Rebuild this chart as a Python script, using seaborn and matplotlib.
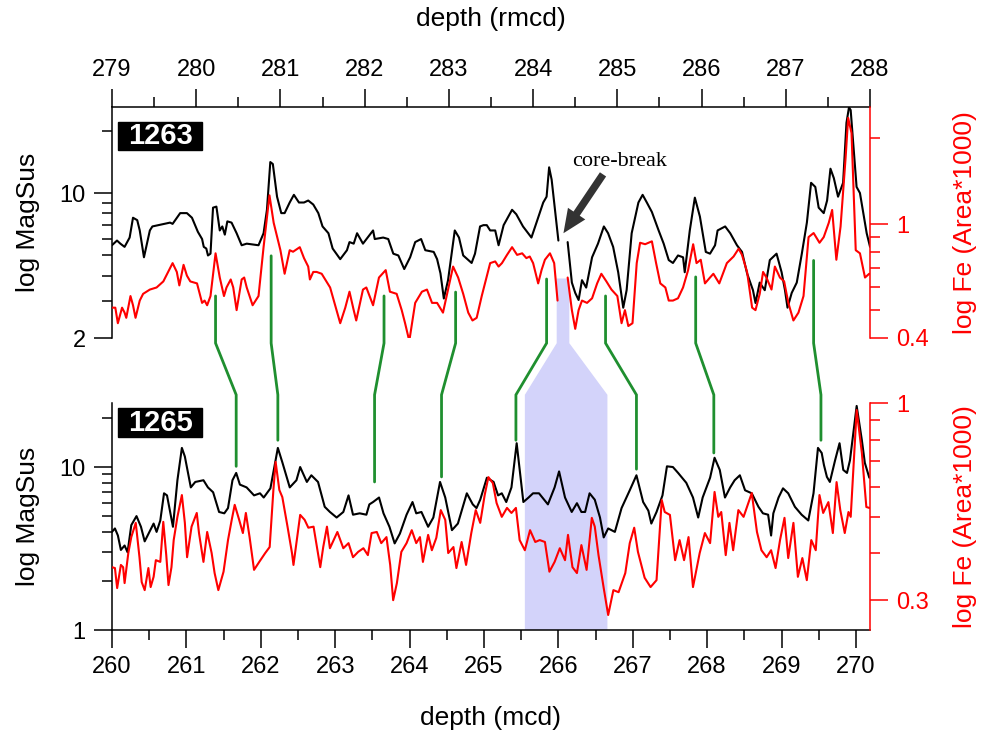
import numpy as np
import pandas as pd
import matplotlib
matplotlib.use("Agg")
import matplotlib.pyplot as plt
from matplotlib.lines import Line2D
from matplotlib.patches import Polygon, Rectangle
from matplotlib.ticker import FixedLocator, NullFormatter, FuncFormatter
import seaborn as sns

# ---------------------------------------------------------------------------
# Site 1263 (revised composite depth), split at the core break
# ---------------------------------------------------------------------------
rmcd_ms_1263_a = [
    279.00, 279.06, 279.10, 279.15, 279.21, 279.25, 279.30, 279.33, 279.38, 279.45,
    279.48, 279.69, 279.72, 279.81, 279.89, 279.95, 280.02, 280.07, 280.09, 280.12,
    280.14, 280.17, 280.20, 280.24, 280.28, 280.31, 280.34, 280.37, 280.42, 280.48,
    280.54, 280.60, 280.74, 280.80, 280.84, 280.88, 280.91, 280.96, 281.01, 281.05,
    281.11, 281.16, 281.22, 281.28, 281.33, 281.39, 281.45, 281.50, 281.57, 281.62,
    281.71, 281.79, 281.82, 281.87, 281.91, 281.98, 282.10, 282.12, 282.22, 282.28,
    282.34, 282.40, 282.47, 282.54, 282.60, 282.67, 282.72, 282.82, 282.86, 282.90,
    282.94, 282.99, 283.07, 283.12, 283.17, 283.27, 283.31, 283.37, 283.41, 283.45,
    283.49, 283.55, 283.59, 283.65, 283.75, 283.80, 283.88, 283.98, 284.04, 284.12,
    284.16, 284.19, 284.22, 284.30,
]
ms_1263_a = [
    5.6, 5.9, 5.7, 5.5, 6.1, 7.6, 7.4, 6.6, 4.9, 6.6,
    6.9, 7.2, 7.1, 8.0, 8.0, 7.6, 6.5, 6.0, 5.5, 5.4,
    5.0, 5.1, 8.5, 8.6, 6.6, 6.9, 6.3, 7.3, 7.2, 6.4,
    5.6, 5.7, 5.6, 6.4, 8.3, 14.1, 13.8, 9.6, 8.0, 8.0,
    9.0, 9.8, 9.0, 9.0, 9.2, 8.8, 8.0, 6.9, 6.4, 5.4,
    4.8, 5.3, 5.8, 5.7, 6.4, 5.7, 6.6, 6.0, 6.1, 6.0,
    5.1, 5.0, 4.3, 4.9, 5.8, 6.0, 5.3, 5.2, 4.8, 4.1,
    3.1, 3.8, 6.6, 6.1, 5.0, 4.6, 5.1, 6.9, 7.0, 7.0,
    6.6, 6.6, 5.6, 7.0, 8.3, 7.9, 6.9, 6.1, 7.2, 9.0,
    9.6, 13.3, 11.6, 5.9,
]
rmcd_ms_1263_b = [
    284.41, 284.46, 284.50, 284.54, 284.58, 284.63, 284.70, 284.77, 284.84, 284.89,
    284.95, 285.01, 285.07, 285.11, 285.17, 285.25, 285.30, 285.35, 285.41, 285.49,
    285.55, 285.61, 285.66, 285.72, 285.78, 285.80, 285.86, 285.92, 285.98, 286.05,
    286.10, 286.16, 286.19, 286.28, 286.34, 286.42, 286.48, 286.54, 286.61, 286.64,
    286.69, 286.75, 286.81, 286.89, 286.95, 286.99, 287.02, 287.07, 287.13, 287.19,
    287.25, 287.30, 287.35, 287.39, 287.45, 287.49, 287.53, 287.57, 287.62, 287.68,
    287.72, 287.75, 287.77, 287.84, 287.88, 287.96, 288.00,
]
ms_1263_b = [
    5.8, 3.7, 3.3, 3.05, 3.8, 3.5, 4.9, 5.7, 6.9, 6.4,
    5.5, 4.15, 2.8, 3.4, 6.4, 9.0, 9.8, 9.0, 8.1, 6.6,
    5.7, 4.75, 4.6, 5.0, 4.9, 4.15, 6.6, 9.5, 7.7, 5.2,
    5.1, 5.6, 6.6, 6.9, 6.4, 5.6, 5.2, 4.1, 3.4, 2.95,
    3.7, 3.4, 4.75, 5.1, 4.15, 3.4, 2.8, 3.3, 3.7, 5.1,
    7.2, 11.2, 10.7, 8.5, 8.0, 9.2, 13.1, 11.8, 9.6, 11.2,
    21.8, 25.9, 25.1, 10.7, 10.0, 6.4, 5.5,
]

rmcd_fe_1263_a = [
    279.00, 279.04, 279.07, 279.12, 279.15, 279.17, 279.22, 279.25, 279.28, 279.33,
    279.37, 279.45, 279.53, 279.61, 279.72, 279.77, 279.80, 279.85, 279.89, 279.93,
    280.01, 280.07, 280.10, 280.13, 280.17, 280.23, 280.28, 280.33, 280.36, 280.41,
    280.44, 280.48, 280.54, 280.57, 280.60, 280.67, 280.74, 280.80, 280.87, 280.92,
    281.00, 281.05, 281.11, 281.15, 281.23, 281.28, 281.33, 281.35, 281.39, 281.43,
    281.49, 281.59, 281.71, 281.77, 281.82, 281.87, 281.90, 281.98, 282.02, 282.10,
    282.17, 282.25, 282.30, 282.38, 282.44, 282.48, 282.53, 282.60, 282.68, 282.74,
    282.80, 282.86, 282.93, 282.99, 283.05, 283.11, 283.17, 283.23, 283.28, 283.33,
    283.39, 283.49, 283.55, 283.59, 283.63, 283.69, 283.75, 283.81, 283.87, 283.92,
    283.96, 284.00, 284.06, 284.10, 284.14, 284.20, 284.25, 284.29,
]
fe_1263_a = [
    0.51, 0.51, 0.45, 0.51, 0.49, 0.47, 0.56, 0.52, 0.47, 0.54,
    0.57, 0.59, 0.60, 0.63, 0.73, 0.68, 0.61, 0.72, 0.66, 0.63,
    0.62, 0.53, 0.54, 0.52, 0.56, 0.79, 0.65, 0.56, 0.60, 0.64,
    0.60, 0.50, 0.64, 0.65, 0.60, 0.52, 0.56, 0.83, 1.26, 1.01,
    0.81, 0.67, 0.81, 0.80, 0.83, 0.76, 0.71, 0.64, 0.68, 0.68,
    0.67, 0.60, 0.45, 0.51, 0.58, 0.50, 0.46, 0.59, 0.60, 0.52,
    0.65, 0.69, 0.58, 0.57, 0.50, 0.45, 0.39, 0.53, 0.58, 0.59,
    0.53, 0.53, 0.49, 0.59, 0.71, 0.65, 0.57, 0.49, 0.46, 0.47,
    0.56, 0.73, 0.74, 0.71, 0.73, 0.78, 0.83, 0.78, 0.79, 0.76,
    0.77, 0.73, 0.62, 0.69, 0.75, 0.79, 0.73, 0.54,
]
rmcd_fe_1263_b = [
    284.41, 284.46, 284.50, 284.54, 284.58, 284.64, 284.70, 284.76, 284.81, 284.87,
    284.93, 285.00, 285.05, 285.09, 285.13, 285.18, 285.23, 285.27, 285.33, 285.41,
    285.46, 285.51, 285.57, 285.61, 285.66, 285.72, 285.78, 285.84, 285.90, 285.94,
    285.99, 286.04, 286.10, 286.14, 286.21, 286.30, 286.38, 286.44, 286.48, 286.54,
    286.60, 286.64, 286.69, 286.73, 286.77, 286.83, 286.87, 286.93, 286.98, 287.03,
    287.09, 287.15, 287.21, 287.27, 287.33, 287.40, 287.45, 287.51, 287.55, 287.60,
    287.65, 287.71, 287.74, 287.78, 287.83, 287.88, 287.94, 287.99,
]
fe_1263_b = [
    0.65, 0.50, 0.43, 0.50, 0.54, 0.53, 0.55, 0.62, 0.67, 0.63,
    0.59, 0.56, 0.45, 0.50, 0.44, 0.45, 0.73, 0.86, 0.85, 0.87,
    0.73, 0.62, 0.60, 0.54, 0.54, 0.55, 0.60, 0.69, 0.85, 0.73,
    0.75, 0.62, 0.65, 0.67, 0.62, 0.73, 0.77, 0.82, 0.78, 0.68,
    0.51, 0.50, 0.57, 0.68, 0.65, 0.59, 0.71, 0.65, 0.63, 0.53,
    0.46, 0.49, 0.56, 0.90, 0.93, 0.86, 0.90, 1.01, 1.12, 0.75,
    0.98, 1.71, 2.35, 2.08, 0.81, 0.79, 0.65, 0.67,
]

# ---------------------------------------------------------------------------
# Site 1265 (composite depth)
# ---------------------------------------------------------------------------
mcd_ms_1265 = [
    260.00, 260.04, 260.08, 260.12, 260.17, 260.21, 260.26, 260.33, 260.39, 260.44,
    260.56, 260.60, 260.65, 260.70, 260.74, 260.82, 260.88, 260.94, 260.98, 261.06,
    261.12, 261.23, 261.29, 261.36, 261.44, 261.51, 261.56, 261.62, 261.67, 261.72,
    261.81, 261.91, 261.99, 262.04, 262.13, 262.23, 262.29, 262.39, 262.48, 262.53,
    262.62, 262.68, 262.77, 262.86, 262.93, 263.02, 263.11, 263.18, 263.24, 263.33,
    263.42, 263.46, 263.51, 263.59, 263.65, 263.73, 263.80, 263.87, 263.96, 264.04,
    264.09, 264.16, 264.25, 264.32, 264.41, 264.48, 264.57, 264.65, 264.77, 264.85,
    264.90, 264.95, 265.04, 265.13, 265.19, 265.24, 265.30, 265.37, 265.44, 265.53,
    265.60, 265.66, 265.74, 265.86, 265.95, 266.01, 266.09, 266.18, 266.25, 266.31,
    266.36, 266.42, 266.49, 266.56, 266.61, 266.67, 266.76, 266.85, 266.96, 267.05,
    267.14, 267.21, 267.25, 267.32, 267.40, 267.46, 267.54, 267.61, 267.72, 267.81,
    267.88, 267.94, 268.04, 268.10, 268.17, 268.24, 268.31, 268.37, 268.44, 268.51,
    268.60, 268.69, 268.75, 268.82, 268.86, 268.89, 268.96, 269.02, 269.09, 269.18,
    269.27, 269.36, 269.43, 269.49, 269.54, 269.57, 269.61, 269.65, 269.72, 269.78,
    269.83, 269.88, 269.92, 270.01, 270.08, 270.12, 270.18,
]
ms_1265 = [
    4.0, 4.2, 3.8, 3.1, 3.3, 3.0, 4.4, 5.0, 4.3, 3.5,
    4.5, 4.0, 4.7, 6.9, 6.7, 4.3, 8.3, 13.1, 11.6, 7.5,
    8.1, 8.3, 7.5, 7.0, 5.3, 5.2, 5.6, 8.3, 9.2, 7.8,
    7.5, 6.7, 6.9, 6.5, 7.4, 13.1, 10.7, 7.5, 8.3, 10.0,
    8.1, 8.9, 8.1, 5.7, 5.3, 4.9, 5.3, 6.7, 5.1, 5.2,
    5.1, 5.9, 6.1, 6.5, 5.2, 4.3, 3.4, 3.9, 5.1, 6.1,
    5.2, 5.3, 4.3, 4.9, 8.1, 6.5, 4.1, 4.5, 6.9, 5.9,
    5.6, 6.3, 8.6, 8.1, 6.7, 6.9, 6.1, 7.5, 14.0, 6.1,
    6.5, 6.9, 6.9, 5.9, 7.5, 9.4, 6.5, 5.3, 6.0, 5.3,
    5.3, 6.9, 6.3, 4.9, 3.7, 4.2, 4.0, 5.6, 7.2, 8.9,
    6.1, 5.4, 4.5, 5.3, 6.7, 10.1, 10.0, 9.2, 8.0, 6.5,
    4.9, 6.5, 8.6, 11.4, 9.6, 6.5, 7.5, 8.3, 8.9, 7.2,
    6.9, 5.7, 5.2, 5.1, 3.8, 5.2, 6.5, 7.4, 6.9, 5.7,
    5.1, 4.7, 6.9, 13.1, 12.2, 10.3, 8.7, 8.1, 11.0, 14.0,
    9.6, 9.2, 11.0, 23.7, 14.6, 10.6, 8.6,
]

mcd_fe_1265 = [
    260.00, 260.04, 260.07, 260.12, 260.15, 260.17, 260.22, 260.26, 260.32, 260.37,
    260.40, 260.44, 260.49, 260.52, 260.56, 260.59, 260.65, 260.69, 260.73, 260.76,
    260.80, 260.83, 260.88, 260.94, 260.98, 261.01, 261.07, 261.14, 261.17, 261.23,
    261.28, 261.34, 261.38, 261.43, 261.50, 261.56, 261.61, 261.65, 261.71, 261.76,
    261.80, 261.85, 261.91, 261.98, 262.06, 262.12, 262.17, 262.20, 262.25, 262.29,
    262.36, 262.42, 262.44, 262.53, 262.59, 262.64, 262.71, 262.80, 262.84, 262.89,
    262.93, 263.03, 263.11, 263.18, 263.24, 263.31, 263.38, 263.44, 263.49, 263.56,
    263.62, 263.69, 263.74, 263.78, 263.83, 263.89, 263.96, 264.03, 264.09, 264.14,
    264.18, 264.25, 264.30, 264.36, 264.42, 264.48, 264.52, 264.59, 264.63, 264.70,
    264.76, 264.83, 264.89, 264.95, 265.01, 265.06, 265.12, 265.17, 265.24, 265.31,
    265.37, 265.43, 265.48, 265.55, 265.62, 265.69, 265.75, 265.82, 265.88, 265.95,
    266.02, 266.09, 266.13, 266.19, 266.25, 266.31, 266.38, 266.45, 266.49, 266.54,
    266.61, 266.67, 266.74, 266.81, 266.90, 266.96, 267.02, 267.07, 267.16, 267.24,
    267.32, 267.39, 267.43, 267.50, 267.57, 267.63, 267.69, 267.75, 267.81, 267.90,
    267.97, 268.04, 268.10, 268.15, 268.19, 268.25, 268.30, 268.35, 268.42, 268.49,
    268.60, 268.67, 268.73, 268.80, 268.86, 268.92, 268.98, 269.04, 269.09, 269.16,
    269.22, 269.28, 269.34, 269.40, 269.46, 269.51, 269.56, 269.63, 269.69, 269.74,
    269.79, 269.85, 269.90, 269.93, 270.01, 270.08, 270.14, 270.18,
]
fe_1265 = [
    0.367, 0.365, 0.323, 0.372, 0.367, 0.333, 0.400, 0.441, 0.481, 0.390,
    0.335, 0.319, 0.365, 0.325, 0.346, 0.383, 0.379, 0.484, 0.395, 0.329,
    0.367, 0.433, 0.499, 0.570, 0.481, 0.390, 0.470, 0.511, 0.452, 0.379,
    0.455, 0.400, 0.354, 0.319, 0.357, 0.433, 0.490, 0.537, 0.490, 0.452,
    0.511, 0.441, 0.361, 0.379, 0.400, 0.415, 0.588, 0.698, 0.588, 0.563,
    0.470, 0.400, 0.372, 0.505, 0.490, 0.467, 0.470, 0.367, 0.415, 0.470,
    0.412, 0.455, 0.412, 0.425, 0.390, 0.403, 0.412, 0.395, 0.452, 0.455,
    0.425, 0.441, 0.372, 0.300, 0.333, 0.403, 0.425, 0.460, 0.425, 0.441,
    0.379, 0.447, 0.407, 0.439, 0.520, 0.490, 0.400, 0.415, 0.365, 0.428,
    0.372, 0.452, 0.520, 0.481, 0.570, 0.636, 0.613, 0.543, 0.499, 0.527,
    0.511, 0.527, 0.433, 0.407, 0.460, 0.428, 0.433, 0.428, 0.357, 0.379,
    0.412, 0.383, 0.447, 0.367, 0.354, 0.420, 0.361, 0.496, 0.470, 0.395,
    0.323, 0.274, 0.319, 0.315, 0.354, 0.425, 0.467, 0.403, 0.344, 0.325,
    0.339, 0.553, 0.514, 0.505, 0.383, 0.433, 0.383, 0.441, 0.325, 0.400,
    0.452, 0.425, 0.581, 0.499, 0.514, 0.395, 0.481, 0.407, 0.520, 0.499,
    0.577, 0.455, 0.407, 0.390, 0.407, 0.365, 0.433, 0.496, 0.388, 0.481,
    0.346, 0.388, 0.339, 0.433, 0.407, 0.570, 0.511, 0.546, 0.452, 0.617,
    0.520, 0.452, 0.514, 0.499, 0.958, 0.737, 0.530, 0.527,
]

# Tie points between the two sites: depth and MagSus level at each end
tie_rmcd = [280.23, 280.89, 282.23, 283.08, 284.16, 284.86, 285.93, 287.33]
tie_level_1263 = [3.19, 4.98, 3.19, 3.33, 3.85, 3.19, 3.94, 4.73]
tie_mcd = [261.67, 262.23, 263.53, 264.43, 265.43, 267.05, 268.09, 269.53]
tie_level_1265 = [10.1, 14.6, 8.1, 8.7, 14.6, 9.7, 12.2, 14.6]

# Interval missing from 1263 at the core break, and its extent in 1265
gap_rmcd = [284.28, 284.43]
gap_fe_top = 0.645
gap_mcd = [265.55, 266.66]

# Tick positions
rmcd_ticks = list(range(279, 289))
mcd_ticks = list(range(260, 271))
ms_major_1263, ms_minor_1263 = [2, 10], [3, 4, 5, 6, 7, 8, 9, 20]
fe_major_1263, fe_minor_1263 = [0.4, 1], [0.5, 0.6, 0.7, 0.8, 0.9, 2]
ms_major_1265, ms_minor_1265 = [1, 10], [2, 3, 4, 5, 6, 7, 8, 9, 20]
fe_major_1265, fe_minor_1265 = [0.3, 1], [0.4, 0.5, 0.6, 0.7, 0.8, 0.9]

# ---------------------------------------------------------------------------
sns.set_theme(style="ticks")
plt.rcParams["font.family"] = ["Liberation Sans", "DejaVu Sans"]
plt.rcParams["axes.unicode_minus"] = False

RED = "#ff0000"
GREEN = "#1f8f2f"
BLUE = "#d3d3fa"
TICK_FS = 17
LABEL_FS = 19
LW = 1.5


def segments(parts, xname, yname):
    frames = []
    for i, (x, y) in enumerate(parts):
        frames.append(pd.DataFrame({xname: x, yname: y, "segment": i}))
    return pd.concat(frames, ignore_index=True)


df_ms_1263 = segments([(rmcd_ms_1263_a, ms_1263_a), (rmcd_ms_1263_b, ms_1263_b)], "rmcd", "ms")
df_fe_1263 = segments([(rmcd_fe_1263_a, fe_1263_a), (rmcd_fe_1263_b, fe_1263_b)], "rmcd", "fe")
df_ms_1265 = segments([(mcd_ms_1265, ms_1265)], "mcd", "ms")
df_fe_1265 = segments([(mcd_fe_1265, fe_1265)], "mcd", "fe")

fig = plt.figure(figsize=(9.82, 7.38), dpi=100)
fig.patch.set_facecolor("white")
ax_t = fig.add_axes([0.114, 0.542, 0.772, 0.313])
ax_b = fig.add_axes([0.114, 0.1463, 0.772, 0.3076])
ax_t.set_facecolor("none")
ax_b.set_facecolor("none")
ax_tr = ax_t.twinx()
ax_br = ax_b.twinx()
for a in (ax_tr, ax_br):
    a.set_facecolor("none")

sns.lineplot(data=df_ms_1263, x="rmcd", y="ms", units="segment", estimator=None,
             color="black", lw=LW, ax=ax_t, legend=False)
sns.lineplot(data=df_fe_1263, x="rmcd", y="fe", units="segment", estimator=None,
             color=RED, lw=LW, ax=ax_tr, legend=False)
sns.lineplot(data=df_ms_1265, x="mcd", y="ms", units="segment", estimator=None,
             color="black", lw=LW, ax=ax_b, legend=False)
sns.lineplot(data=df_fe_1265, x="mcd", y="fe", units="segment", estimator=None,
             color=RED, lw=LW, ax=ax_br, legend=False)

for a in (ax_t, ax_tr, ax_b, ax_br):
    a.set_yscale("log")

ax_t.set_xlim(279, 288)
ax_t.set_ylim(2.0, 25.98)
ax_tr.set_ylim(0.3995, 2.565)
ax_b.set_xlim(260, 270.19)
ax_b.set_ylim(1.0, 24.7)
ax_br.set_ylim(0.25, 1.0)

fmt = FuncFormatter(lambda v, p: f"{v:g}")


def style_y(a, major, minor, color, side):
    a.yaxis.set_major_locator(FixedLocator(major))
    a.yaxis.set_minor_locator(FixedLocator(minor))
    a.yaxis.set_major_formatter(fmt)
    a.yaxis.set_minor_formatter(NullFormatter())
    a.tick_params(axis="y", which="major", length=13, width=1.1, direction="out",
                  colors=color, labelsize=TICK_FS, pad=6)
    a.tick_params(axis="y", which="minor", length=7, width=1.1, direction="out",
                  colors=color)
    for s in a.spines.values():
        s.set_visible(False)
    a.spines[side].set_visible(True)
    a.spines[side].set_color(color)
    a.spines[side].set_linewidth(1.1)


style_y(ax_t, ms_major_1263, ms_minor_1263, "black", "left")
style_y(ax_tr, fe_major_1263, fe_minor_1263, RED, "right")
style_y(ax_b, ms_major_1265, ms_minor_1265, "black", "left")
style_y(ax_br, fe_major_1265, fe_minor_1265, RED, "right")

# top panel: depth axis along the top edge
ax_t.spines["top"].set_visible(True)
ax_t.spines["top"].set_color("black")
ax_t.spines["top"].set_linewidth(1.1)
ax_t.xaxis.tick_top()
ax_t.xaxis.set_label_position("top")
ax_t.set_xticks(rmcd_ticks)
ax_t.xaxis.set_minor_locator(FixedLocator(np.arange(279.5, 288, 1.0)))
ax_t.tick_params(axis="x", which="major", length=13, width=1.1, direction="out",
                 colors="black", labelsize=TICK_FS, pad=6)
ax_t.tick_params(axis="x", which="minor", length=7, width=1.1, direction="out", colors="black")

# bottom panel: depth axis along the bottom edge
ax_b.spines["bottom"].set_visible(True)
ax_b.spines["bottom"].set_color("black")
ax_b.spines["bottom"].set_linewidth(1.1)
ax_b.set_xticks(mcd_ticks)
ax_b.xaxis.set_minor_locator(FixedLocator(np.arange(260.5, 270.2, 1.0)))
ax_b.tick_params(axis="x", which="major", length=13, width=1.1, direction="out",
                 colors="black", labelsize=TICK_FS, pad=6)
ax_b.tick_params(axis="x", which="minor", length=7, width=1.1, direction="out", colors="black")

# axis titles
ax_t.set_xlabel("depth (rmcd)", fontsize=LABEL_FS, color="black")
ax_t.xaxis.set_label_coords(0.5, 1.381)
ax_t.xaxis.label.set_va("center")
ax_b.set_xlabel("depth (mcd)", fontsize=LABEL_FS, color="black")
ax_b.xaxis.set_label_coords(0.5, -0.388)
ax_b.xaxis.label.set_va("center")
for a in (ax_t, ax_b):
    a.set_ylabel("log MagSus", fontsize=LABEL_FS, color="black")
    a.yaxis.set_label_coords(-0.111, 0.5)
    a.yaxis.label.set_va("center")
for a in (ax_tr, ax_br):
    a.set_ylabel("log Fe (Area*1000)", fontsize=LABEL_FS, color=RED)
    a.yaxis.set_label_coords(1.125, 0.5)
    a.yaxis.label.set_va("center")

# site badges
for a, name, y0, h in ((ax_t, "1263", 0.814, 0.121), (ax_b, "1265", 0.850, 0.128)):
    a.add_patch(Rectangle((0.008, y0), 0.111, h, transform=a.transAxes,
                          facecolor="black", edgecolor="black", clip_on=False, zorder=5))
    a.text(0.0635, y0 + h / 2, name, transform=a.transAxes, ha="center", va="center",
           color="white", fontsize=21, fontweight="bold", zorder=6)

# core-break note
ax_t.text(285.03, 14.2, "core-break", fontsize=16, family=["Liberation Serif", "DejaVu Serif"],
          ha="center", va="center", color="black")
ax_t.annotate("", xy=(284.36, 6.4), xytext=(284.83, 12.3),
              arrowprops=dict(arrowstyle="simple,head_length=0.85,head_width=0.75,tail_width=0.27",
                              fc="#333333", ec="none", mutation_scale=20, shrinkA=0, shrinkB=0))

# ---------------------------------------------------------------------------
# Correlation lines and the missing interval drawn across both panels
inv = fig.transFigure.inverted()


def to_fig(a, x, y):
    return inv.transform(a.transData.transform((x, y)))


bend_hi, bend_lo = 0.535, 0.465
for xr, lr, xm, lm in zip(tie_rmcd, tie_level_1263, tie_mcd, tie_level_1265):
    x0, y0 = to_fig(ax_t, xr, lr)
    x1, y1 = to_fig(ax_b, xm, lm)
    fig.add_artist(Line2D([x0, x0, x1, x1], [y0, bend_hi, bend_lo, y1], color=GREEN,
                          lw=2.0, solid_joinstyle="miter", zorder=-0.5))

gx0, gtop = to_fig(ax_tr, gap_rmcd[0], gap_fe_top)
gx1, _ = to_fig(ax_tr, gap_rmcd[1], gap_fe_top)
bx0, _ = to_fig(ax_b, gap_mcd[0], 5)
bx1, _ = to_fig(ax_b, gap_mcd[1], 5)
ybot = ax_b.get_position().y0
fig.add_artist(Polygon([(gx0, gtop), (gx1, gtop), (gx1, bend_hi), (bx1, bend_lo),
                        (bx1, ybot), (bx0, ybot), (bx0, bend_lo), (gx0, bend_hi)],
                       closed=True, facecolor=BLUE, edgecolor="none", zorder=-1))

fig.savefig("out.png", dpi=100, facecolor="white")
